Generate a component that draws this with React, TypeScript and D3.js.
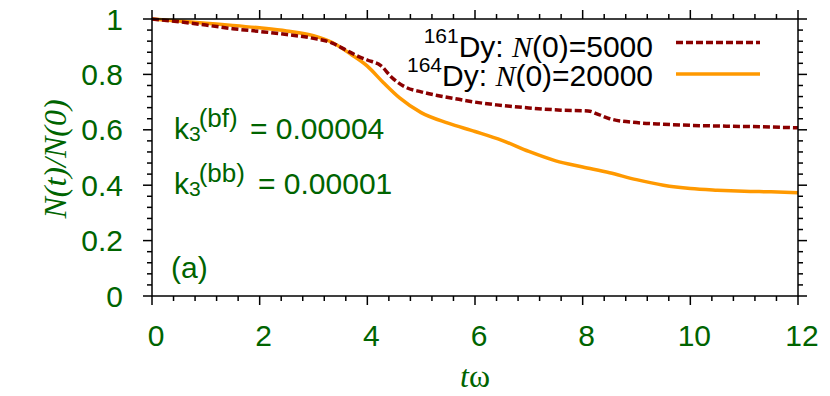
import React from "react";
import * as d3 from "d3";

const W = 830;
const H = 396;

const orangeX = [0, 0.5, 1, 1.5, 2, 2.5, 3, 3.35, 3.7, 4.0, 4.3, 4.6, 5.0, 5.5, 6.0, 6.5, 7.0, 7.5, 8.0, 8.5, 9.0, 9.5, 10.0, 10.5, 11.0, 11.5, 12];
const orangeY = [1, 0.993, 0.985, 0.977, 0.968, 0.957, 0.94, 0.915, 0.872, 0.83, 0.77, 0.715, 0.662, 0.624, 0.594, 0.562, 0.522, 0.488, 0.466, 0.445, 0.42, 0.4, 0.388, 0.382, 0.378, 0.376, 0.373];

const redX = [0, 0.5, 1, 1.5, 2, 2.5, 3.0, 3.35, 3.6, 3.8, 4.0, 4.25, 4.45, 4.7, 5.0, 5.3, 5.7, 6.0, 6.4, 7.0, 7.6, 8.1, 8.3, 8.5, 9.0, 9.5, 10.0, 10.7, 11.3, 12];
const redY = [1, 0.99, 0.978, 0.965, 0.955, 0.944, 0.93, 0.913, 0.888, 0.868, 0.852, 0.832, 0.79, 0.755, 0.737, 0.724, 0.71, 0.7, 0.69, 0.679, 0.671, 0.668, 0.655, 0.64, 0.626, 0.62, 0.616, 0.613, 0.611, 0.607];

const xMajor = [0, 2, 4, 6, 8, 10, 12];
const yMajor = [0, 0.2, 0.4, 0.6, 0.8, 1];
const xMinor = d3.range(0, 12.0001, 0.4);
const yMinor = d3.range(0, 1.0001, 0.04);

const legendIso = ["161", "164"];
const legendN0 = ["5000", "20000"];
const k3Labels = ["bf", "bb"];
const k3Values = ["0.00004", "0.00001"];

const GREEN = "#006400";
const ORANGE = "#ff9900";
const DARKRED = "#8b0000";
const SANS = "'Liberation Sans', Arial, Helvetica, sans-serif";
const SERIF = "'Liberation Serif', 'Times New Roman', serif";

export default function App() {
  const L = 152, R = 798, T = 19, B = 296;
  const x = d3.scaleLinear().domain([0, 12]).range([L, R]);
  const y = d3.scaleLinear().domain([0, 1]).range([B, T]);
  const line = d3
    .line<[number, number]>()
    .x((d) => x(d[0]))
    .y((d) => y(d[1]))
    .curve(d3.curveMonotoneX);
  const orange = orangeX.map((v, i) => [v, orangeY[i]] as [number, number]);
  const red = redX.map((v, i) => [v, redY[i]] as [number, number]);

  const major = 9;
  const minor = 5;
  const k3Base = [139, 194];
  const k3EqX = [250, 258];
  const legBase = [56.5, 85.5];
  const legLineY = [42.5, 74];
  const legColors = [DARKRED, ORANGE];
  const legDash = ["7 3", undefined];

  return (
    <svg
      width={W}
      height={H}
      style={{ position: "absolute", left: 0, top: 0, background: "#fff" }}
    >
      <rect x={0} y={0} width={W} height={H} fill="#fff" />
      {/* curves */}
      <path d={line(orange) || ""} fill="none" stroke={ORANGE} strokeWidth={3.5} strokeLinejoin="round" />
      <path d={line(red) || ""} fill="none" stroke={DARKRED} strokeWidth={3.5} strokeDasharray="7 3" />
      {/* frame */}
      <rect x={L} y={T} width={R - L} height={B - T} fill="none" stroke="#000" strokeWidth={1.5} />
      {/* ticks */}
      <g stroke="#000" strokeWidth={1.5}>
        {xMinor.map((v, i) => {
          const isMajor = Math.abs(v / 2 - Math.round(v / 2)) < 1e-6;
          const len = isMajor ? major : minor;
          return (
            <g key={"xt" + i}>
              <line x1={x(v)} x2={x(v)} y1={B} y2={B + len} />
              <line x1={x(v)} x2={x(v)} y1={T} y2={T - len} />
            </g>
          );
        })}
        {yMinor.map((v, i) => {
          const isMajor = Math.abs(v / 0.2 - Math.round(v / 0.2)) < 1e-6;
          const len = isMajor ? major : minor;
          return (
            <g key={"yt" + i}>
              <line x1={L} x2={L - len} y1={y(v)} y2={y(v)} />
              <line x1={R} x2={R + len} y1={y(v)} y2={y(v)} />
            </g>
          );
        })}
      </g>
      {/* tick labels */}
      <g fill={GREEN} fontFamily={SANS} fontSize={30}>
        {xMajor.map((v) => (
          <text key={"xl" + v} x={x(v) + 4} y={346} textAnchor="middle">
            {String(v)}
          </text>
        ))}
        {yMajor.map((v) => (
          <text key={"yl" + v} x={123} y={y(v) + 10.5} textAnchor="end">
            {String(v)}
          </text>
        ))}
      </g>
      {/* axis labels */}
      <text
        x={(L + R) / 2}
        y={387}
        textAnchor="middle"
        fill={GREEN}
        fontFamily={SERIF}
        fontSize={32}
      >
        <tspan fontStyle="italic">t</tspan>ω
      </text>
      <text
        transform={`translate(66,159) rotate(-90)`}
        textAnchor="middle"
        fill={GREEN}
        fontFamily={SERIF}
        fontStyle="italic"
        fontSize={32}
      >
        N(t)/N(0)
      </text>
      {/* annotations */}
      <g fill={GREEN} fontFamily={SANS} fontSize={30}>
        {k3Labels.map((lab, i) => (
          <text key={"k" + i} x={174} y={k3Base[i]}>
            k<tspan fontSize={21} dy={2}>3</tspan>
            <tspan fontSize={26} dx={-2} dy={-14}>{`(${lab})`}</tspan>
            <tspan x={k3EqX[i]} y={k3Base[i]}>{`= ${k3Values[i]}`}</tspan>
          </text>
        ))}
        <text x={171} y={278}>(a)</text>
      </g>
      {/* legend */}
      <g fill="#000" fontFamily={SANS} fontSize={30}>
        {legendIso.map((iso, i) => (
          <text key={"lg" + i} x={653} y={legBase[i]} textAnchor="end">
            <tspan fontSize={21} dy={-14}>{iso}</tspan>
            <tspan dy={14}>Dy: </tspan>
            <tspan fontFamily={SERIF} fontStyle="italic">N</tspan>
            <tspan>{`(0)=${legendN0[i]}`}</tspan>
          </text>
        ))}
      </g>
      {legendIso.map((_, i) => (
        <line
          key={"ll" + i}
          x1={676}
          x2={760}
          y1={legLineY[i]}
          y2={legLineY[i]}
          stroke={legColors[i]}
          strokeWidth={3.5}
          strokeDasharray={legDash[i]}
        />
      ))}
    </svg>
  );
}
